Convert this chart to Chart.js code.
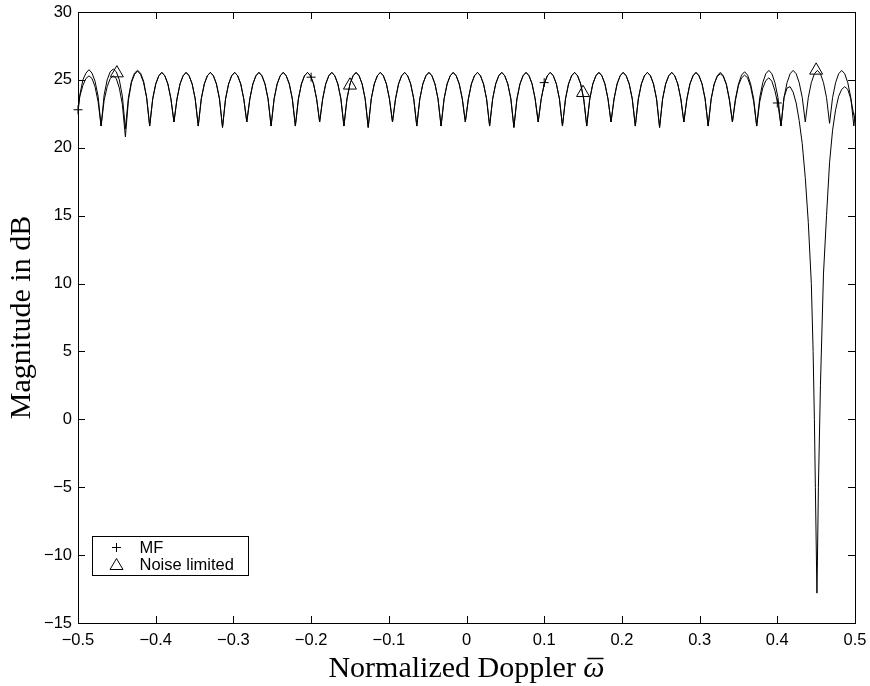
<!DOCTYPE html>
<html lang="en">
<head>
  <meta charset="UTF-8" />
  <title>Magnitude vs normalized Doppler</title>
  <script src="https://cdn.jsdelivr.net/npm/chart.js"></script>
  <style>
    body {
      margin: 0;
      background: #fff;
    }

    canvas {
      display: block;
    }
  </style>
</head>
<body>
  <canvas id="dopplerChart" width="870" height="686"></canvas>

  <script>
    // sample grid of the two curves (8 samples per Doppler lobe)
    const firstSampleX = -0.5015;
    const sampleStep = 1 / 256;

    // left edge, first three lobes, where the curves differ a little
    const mfLeftDb = [
      22.3, 23.8, 24.6, 25.1, 25.3, 25.1, 24.5, 23.4,
      21.6, 23.5, 24.5, 25.1, 25.3, 25.1, 24.4, 23.2,
      20.8, 23.5, 24.8, 25.4, 25.65, 25.4, 24.8, 23.7
    ];
    const nlLeftDb = [
      21.8, 23.9, 25.0, 25.5, 25.75, 25.5, 24.9, 23.8,
      21.6, 23.9, 25.0, 25.6, 25.8, 25.6, 25.0, 23.8,
      21.4, 23.7, 24.9, 25.5, 25.7, 25.5, 24.9, 23.7
    ];

    // middle lobes, both curves lie on top of each other
    const sharedDb = [
      21.6, 23.6, 24.7, 25.3, 25.55, 25.3, 24.7, 23.6,
      21.9, 23.6, 24.7, 25.3, 25.55, 25.3, 24.7, 23.6,
      21.6, 23.6, 24.7, 25.3, 25.55, 25.3, 24.7, 23.6,
      21.5, 23.6, 24.7, 25.3, 25.55, 25.3, 24.7, 23.6,
      21.9, 23.6, 24.7, 25.3, 25.55, 25.3, 24.7, 23.6,
      21.6, 23.6, 24.7, 25.3, 25.55, 25.3, 24.7, 23.6,
      21.6, 23.6, 24.7, 25.3, 25.55, 25.3, 24.7, 23.6,
      21.9, 23.6, 24.7, 25.3, 25.55, 25.3, 24.7, 23.6,
      21.6, 23.6, 24.7, 25.3, 25.55, 25.3, 24.7, 23.6,
      21.5, 23.6, 24.7, 25.3, 25.55, 25.3, 24.7, 23.6,
      21.9, 23.6, 24.7, 25.3, 25.55, 25.3, 24.7, 23.6,
      21.6, 23.6, 24.7, 25.3, 25.55, 25.3, 24.7, 23.6,
      21.6, 23.6, 24.7, 25.3, 25.55, 25.3, 24.7, 23.6,
      21.9, 23.6, 24.7, 25.3, 25.55, 25.3, 24.7, 23.6,
      21.6, 23.6, 24.7, 25.3, 25.55, 25.3, 24.7, 23.6,
      21.5, 23.6, 24.7, 25.3, 25.55, 25.3, 24.7, 23.6,
      21.9, 23.6, 24.7, 25.3, 25.55, 25.3, 24.7, 23.6,
      21.6, 23.6, 24.7, 25.3, 25.55, 25.3, 24.7, 23.6,
      21.6, 23.6, 24.7, 25.3, 25.55, 25.3, 24.7, 23.6,
      21.9, 23.6, 24.7, 25.3, 25.55, 25.3, 24.7, 23.6,
      21.6, 23.6, 24.7, 25.3, 25.55, 25.3, 24.7, 23.6,
      21.5, 23.6, 24.7, 25.3, 25.55, 25.3, 24.7, 23.6,
      21.9, 23.6, 24.7, 25.3, 25.55, 25.3, 24.7, 23.6
    ];

    // right edge: MF drops into the deep null near 0.45
    const mfRightDb = [
      21.6, 23.6, 24.7, 25.25, 25.45, 25.25, 24.65, 23.5,
      21.9, 23.5, 24.6, 25.15, 25.35, 25.15, 24.5, 23.4,
      21.6, 23.4, 24.4, 24.95, 25.15, 24.9, 24.2, 23.2,
      21.6, 23.7, 24.4, 24.5, 24.1, 23.3, 22.0, 20.3, 17.8, 14.5,
      10.0, 0.0, -10.5, 2.5, 10.7, 15.0, 18.9, 21.3, 22.8, 23.8, 24.3, 24.5, 24.3, 23.6, 22.4, 21.5
    ];
    const nlRightDb = [
      21.6, 23.6, 24.7, 25.3, 25.55, 25.3, 24.7, 23.6,
      21.9, 23.6, 24.7, 25.35, 25.6, 25.35, 24.7, 23.6,
      21.6, 23.7, 24.8, 25.45, 25.7, 25.45, 24.8, 23.7,
      21.6, 23.7, 24.8, 25.45, 25.7, 25.45, 24.8, 23.7,
      21.9, 23.7, 24.8, 25.45, 25.7, 25.45, 24.8, 23.7,
      21.8, 23.7, 24.8, 25.45, 25.7, 25.45, 24.8, 23.7,
      21.6, 23.6
    ];

    // extra MF points at the bottom of the null
    const mfNullX = [0.4461, 0.449, 0.451, 0.4529];
    const mfNullDb = [5, -5, -12.8, -5];

    // marker positions
    const mfMarkX = [-0.5, -0.2, 0.1, 0.4];
    const mfMarkDb = [22.8, 25.2, 24.8, 23.3];
    const nlMarkX = [-0.45, -0.15, 0.15, 0.45];
    const nlMarkDb = [25.5, 24.6, 24.05, 25.7];

    // ticks
    const xTickValues = [-0.5, -0.4, -0.3, -0.2, -0.1, 0, 0.1, 0.2, 0.3, 0.4, 0.5];
    const xTickLabels = ['\u22120.5', '\u22120.4', '\u22120.3', '\u22120.2', '\u22120.1', '0', '0.1', '0.2', '0.3', '0.4', '0.5'];
    const yTickValues = [-15, -10, -5, 0, 5, 10, 15, 20, 25, 30];
    const yTickLabels = ['\u221215', '\u221210', '\u22125', '0', '5', '10', '15', '20', '25', '30'];

    const xTitleWords = 'Normalized Doppler ';
    const xTitleSymbol = '\u03c9';
    const yTitle = 'Magnitude in dB';

    const mfDb = [...mfLeftDb, ...sharedDb, ...mfRightDb];
    const nlDb = [...nlLeftDb, ...sharedDb, ...nlRightDb];
    const sampleX = mfDb.map((_, i) => firstSampleX + i * sampleStep);

    const mfPoints = sampleX.map((x, i) => ({ x, y: mfDb[i] }))
      .concat(mfNullX.map((x, i) => ({ x, y: mfNullDb[i] })))
      .sort((a, b) => a.x - b.x);
    const nlPoints = sampleX.map((x, i) => ({ x, y: nlDb[i] }));

    const sansFamily = "'Liberation Sans', Arial, sans-serif";
    const serifFamily = "'Liberation Serif', 'Times New Roman', serif";
    const tickFont = { family: sansFamily, size: 16.5 };
    const titleFont = { family: serifFamily, size: 30 };

    // MATLAB style box, inward ticks, x label and legend
    const matlabFrame = {
      id: 'matlabFrame',
      afterDatasetsDraw(chart) {
        const { ctx, chartArea: a, scales: { x, y } } = chart;
        const len = 7;
        ctx.save();
        ctx.strokeStyle = '#000';
        ctx.lineWidth = 1;
        ctx.beginPath();
        x.ticks.forEach(t => {
          const px = Math.round(x.getPixelForValue(t.value)) + 0.5;
          ctx.moveTo(px, a.bottom); ctx.lineTo(px, a.bottom - len);
          ctx.moveTo(px, a.top); ctx.lineTo(px, a.top + len);
        });
        y.ticks.forEach(t => {
          const py = Math.round(y.getPixelForValue(t.value)) + 0.5;
          ctx.moveTo(a.left, py); ctx.lineTo(a.left + len, py);
          ctx.moveTo(a.right, py); ctx.lineTo(a.right - len, py);
        });
        ctx.stroke();
        ctx.strokeRect(Math.round(a.left) + 0.5, Math.round(a.top) + 0.5,
          Math.round(a.width), Math.round(a.height));

        // x label: roman words, italic omega with a bar
        const cx = (a.left + a.right) / 2;
        const base = 677;
        ctx.fillStyle = '#000';
        ctx.textBaseline = 'alphabetic';
        ctx.font = `${titleFont.size}px ${serifFamily}`;
        const w1 = ctx.measureText(xTitleWords).width;
        ctx.font = `italic ${titleFont.size}px ${serifFamily}`;
        const w2 = ctx.measureText(xTitleSymbol).width;
        const start = cx - (w1 + w2) / 2;
        ctx.font = `${titleFont.size}px ${serifFamily}`;
        ctx.fillText(xTitleWords, start, base);
        ctx.font = `italic ${titleFont.size}px ${serifFamily}`;
        ctx.fillText(xTitleSymbol, start + w1, base);
        ctx.beginPath();
        ctx.lineWidth = 1.5;
        ctx.moveTo(start + w1 + 4, base - 18.5);
        ctx.lineTo(start + w1 + w2 - 1, base - 18.5);
        ctx.stroke();
        ctx.lineWidth = 1;

        // legend box in the lower left corner
        const bx = Math.round(a.left) + 14.5;
        const by = Math.round(a.bottom) - 86.5;
        const bw = 156;
        const bh = 39;
        ctx.fillStyle = '#fff';
        ctx.fillRect(bx, by, bw, bh);
        ctx.strokeRect(bx, by, bw, bh);
        const rows = [
          { label: chart.data.datasets[0].label, y: by + 11 },
          { label: chart.data.datasets[1].label, y: by + 28 }
        ];
        ctx.fillStyle = '#000';
        ctx.font = `${tickFont.size}px ${sansFamily}`;
        ctx.textBaseline = 'middle';
        rows.forEach(r => ctx.fillText(r.label, bx + 47, r.y + 1));
        const mx = bx + 24;
        ctx.beginPath();
        ctx.moveTo(mx - 4.5, rows[0].y); ctx.lineTo(mx + 4.5, rows[0].y);
        ctx.moveTo(mx, rows[0].y - 4.5); ctx.lineTo(mx, rows[0].y + 4.5);
        ctx.moveTo(mx, rows[1].y - 6);
        ctx.lineTo(mx + 6.5, rows[1].y + 5);
        ctx.lineTo(mx - 6.5, rows[1].y + 5);
        ctx.closePath();
        ctx.stroke();
        ctx.restore();
      }
    };

    new Chart(document.getElementById('dopplerChart'), {
      type: 'line',
      data: {
        datasets: [
          {
            label: 'MF',
            data: mfPoints,
            borderColor: '#000',
            borderWidth: 1,
            pointRadius: 0,
            tension: 0
          },
          {
            label: 'Noise limited',
            data: nlPoints,
            borderColor: '#000',
            borderWidth: 1,
            pointRadius: 0,
            tension: 0
          },
          {
            label: 'MF markers',
            data: mfMarkX.map((x, i) => ({ x, y: mfMarkDb[i] })),
            showLine: false,
            clip: false,
            pointStyle: 'cross',
            pointRadius: 4.5,
            borderColor: '#000',
            borderWidth: 1
          },
          {
            label: 'Noise limited markers',
            data: nlMarkX.map((x, i) => ({ x, y: nlMarkDb[i] })),
            showLine: false,
            clip: false,
            pointStyle: 'triangle',
            pointRadius: 7.5,
            borderColor: '#000',
            backgroundColor: 'rgba(0,0,0,0)',
            borderWidth: 1
          }
        ]
      },
      options: {
        responsive: false,
        animation: false,
        layout: { padding: { left: 0, right: 15, top: 12, bottom: 0 } },
        plugins: {
          legend: { display: false },
          tooltip: { enabled: false }
        },
        scales: {
          x: {
            type: 'linear',
            min: -0.5,
            max: 0.5,
            afterBuildTicks: s => { s.ticks = xTickValues.map(v => ({ value: v })); },
            afterFit: s => {
              s.height = 63;
              s.paddingLeft = 0;
              s.paddingRight = 0;
            },
            ticks: {
              autoSkip: false,
              maxRotation: 0,
              padding: 8,
              color: '#000',
              font: tickFont,
              callback: (v, i) => xTickLabels[i]
            },
            grid: { display: false, drawTicks: false },
            border: { display: false }
          },
          y: {
            type: 'linear',
            min: -15,
            max: 30,
            afterBuildTicks: s => { s.ticks = yTickValues.map(v => ({ value: v })); },
            afterFit: s => {
              s.width = 78;
              s.paddingTop = 0;
              s.paddingBottom = 0;
            },
            ticks: {
              autoSkip: false,
              padding: 6,
              color: '#000',
              font: tickFont,
              callback: (v, i) => yTickLabels[i]
            },
            grid: { display: false, drawTicks: false },
            border: { display: false },
            title: {
              display: true,
              text: yTitle,
              color: '#000',
              font: titleFont,
              padding: { top: 4, bottom: 0 }
            }
          }
        }
      },
      plugins: [matlabFrame]
    });
  </script>
</body>
</html>
